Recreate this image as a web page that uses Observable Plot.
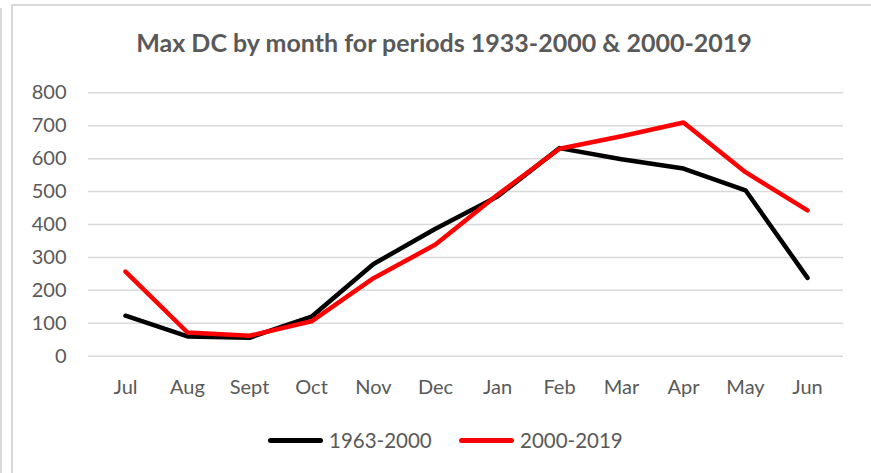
<!DOCTYPE html>
<html>
<head>
<meta charset="utf-8">
<script src="https://cdn.jsdelivr.net/npm/d3@7"></script>
<script src="https://cdn.jsdelivr.net/npm/@observablehq/plot@0.6"></script>
<style>
  html, body { margin: 0; padding: 0; background: #fff; }
  #wrap { position: relative; width: 871px; height: 473px; overflow: hidden; font-family: Lato, "Open Sans", sans-serif; }
  #frame { position: absolute; left: 11px; top: 4px; width: 880px; height: 500px; border-left: 2px solid #d9d9d9; border-top: 2px solid #d9d9d9; }
  #edge { position: absolute; left: 0px; top: 8px; width: 2px; height: 470px; background: #d9d9d9; }
  #title { position: absolute; left: 0; width: 888px; top: 27px; text-align: center; font-size: 25px; font-weight: bold; color: #595959; }
  #chart { position: absolute; left: 0; top: 72px; }
  #legend { position: absolute; left: 0; width: 871px; top: 428px; height: 26px; }
  .item { position: absolute; top: 0; display: flex; align-items: center; font-size: 20.5px; color: #595959; }
  .swatch { width: 55px; height: 5px; border-radius: 3px; margin-right: 6px; }
</style>
</head>
<body>
<div id="wrap">
  <div id="edge"></div>
  <div id="frame"></div>
  <div id="title">Max DC by month for periods 1933-2000 &amp; 2000-2019</div>
  <div id="chart"></div>
  <div id="legend"></div>
</div>
<script>
const months = ["Jul", "Aug", "Sept", "Oct", "Nov", "Dec", "Jan", "Feb", "Mar", "Apr", "May", "Jun"];
const series1Name = "1963-2000";
const series2Name = "2000-2019";
const series1 = [123, 60, 56, 120, 280, 387, 485, 632, 598, 570, 504, 238];
const series2 = [257, 72, 62, 106, 237, 339, 490, 630, 668, 710, 559, 443];
const yTicks = [0, 100, 200, 300, 400, 500, 600, 700, 800];
const colors = {"1963-2000": "#000000", "2000-2019": "#ff0000"};

const data = [];
months.forEach((m, i) => data.push({month: m, value: series1[i], series: series1Name}));
months.forEach((m, i) => data.push({month: m, value: series2[i], series: series2Name}));

const chart = Plot.plot({
  width: 871,
  height: 340,
  marginLeft: 88,
  marginRight: 28,
  marginTop: 20.3,
  marginBottom: 56.3,
  style: {fontFamily: "Lato, 'Open Sans', sans-serif", fontSize: "20px", color: "#595959", background: "transparent"},
  x: {type: "point", domain: months, padding: 0.5, label: null},
  y: {domain: [0, 800], label: null},
  marks: [
    Plot.gridY(yTicks, {stroke: "#d9d9d9", strokeOpacity: 1, strokeWidth: 1.5}),
    Plot.axisY(yTicks, {tickSize: 0, tickPadding: 22, fill: "#595959", fontSize: 20, label: null}),
    Plot.axisX(months, {tickSize: 0, tickPadding: 24, fill: "#595959", fontSize: 20, label: null}),
    Plot.line(data, {x: "month", y: "value", z: "series", stroke: d => colors[d.series], strokeWidth: 4.5, strokeLinejoin: "round", strokeLinecap: "round"})
  ]
});
document.getElementById("chart").appendChild(chart);

const legend = document.getElementById("legend");
const legendPos = {"1963-2000": 268, "2000-2019": 459};
[series1Name, series2Name].forEach(name => {
  const item = document.createElement("div");
  item.className = "item";
  item.style.left = legendPos[name] + "px";
  const sw = document.createElement("div");
  sw.className = "swatch";
  sw.style.background = colors[name];
  const t = document.createElement("span");
  t.textContent = name;
  item.appendChild(sw);
  item.appendChild(t);
  legend.appendChild(item);
});
</script>
</body>
</html>
